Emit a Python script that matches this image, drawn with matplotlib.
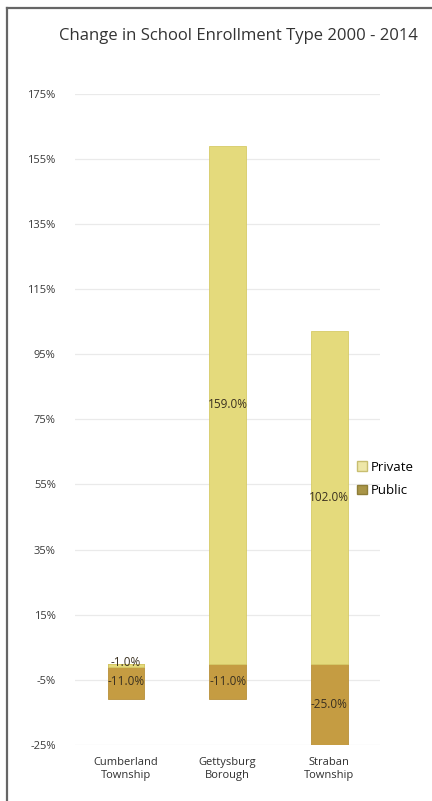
import matplotlib.pyplot as plt
from matplotlib.lines import Line2D
from matplotlib.patches import Patch
import numpy as np

# Daten
places = ["Cumberland\nTownship", "Gettysburg\nBorough", "Straban\nTownship"]
private = [-1.0, 159.0, 102.0]
public = [-11.0, -11.0, -25.0]
yticks = [-25, -5, 15, 35, 55, 75, 95, 115, 135, 155, 175]

plt.rcParams["font.family"] = ["Open Sans", "DejaVu Sans"]

fig = plt.figure(figsize=(4.32, 8.01), dpi=100)
ax = fig.add_axes([0.174, 0.070, 0.706, 0.813])

x = np.arange(len(places))
w = 0.36
c_priv = "#E4DA7C"
c_pub = "#C59C42"

ax.bar(x, public, w, color=c_pub, edgecolor="#B89038", lw=0.6, zorder=2)
ax.bar(x, private, w, color=c_priv, edgecolor="#D6CB68", lw=0.6, zorder=3)

# Werte-Labels
for xi, v in zip(x, private):
    ax.text(xi, v / 2 if v > 0 else v + 1.3, f"{v:.1f}%", ha="center", va="center",
            fontsize=8.5, color="#3a3020", zorder=5)
for xi, v in zip(x, public):
    ax.text(xi, v / 2, f"{v:.1f}%", ha="center", va="center",
            fontsize=8.5, color="#3a3020", zorder=5)

ax.set_ylim(-25, 175)
ax.set_xlim(-0.5, 2.5)
ax.set_yticks(yticks)
ax.set_yticklabels([f"{t}%" for t in yticks])
ax.set_xticks(x)
ax.set_xticklabels(places)
ax.tick_params(axis="y", length=0, labelsize=8, labelcolor="#3a3a3a", pad=14)
ax.tick_params(axis="x", length=0, labelsize=8, labelcolor="#303030", pad=9)
ax.grid(axis="y", color="#EAEAEA", lw=0.9, zorder=0)
for s in ax.spines.values():
    s.set_visible(False)

fig.text(0.552, 0.955, "Change in School Enrollment Type 2000 - 2014",
         ha="center", va="center", fontsize=12, color="#333333")

handles = [Patch(facecolor="#EEE7A8", edgecolor="#C8BE70", label="Private"),
           Patch(facecolor="#A99548", edgecolor="#8E7D38", label="Public")]
fig.legend(handles=handles, loc="center left", bbox_to_anchor=(0.800, 0.402),
           frameon=False, fontsize=9.5, handlelength=0.7, handleheight=0.7,
           handletextpad=0.3, labelspacing=0.8)

# Rahmen links und oben
fig.add_artist(Line2D([0.016, 0.016], [0.0, 0.990], color="#666666", lw=1.6,
                      transform=fig.transFigure))
fig.add_artist(Line2D([0.016, 1.0], [0.990, 0.990], color="#666666", lw=1.6,
                      transform=fig.transFigure))

fig.savefig("out.png", dpi=100)
